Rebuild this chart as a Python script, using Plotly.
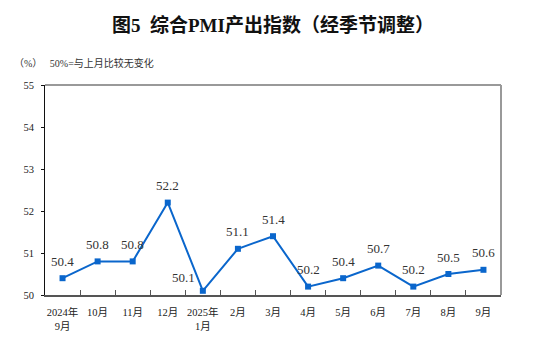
import plotly.graph_objects as go

categories = ["2024年<br>9月", "10月", "11月", "12月", "2025年<br>1月", "2月", "3月",
              "4月", "5月", "6月", "7月", "8月", "9月"]
values = [50.4, 50.8, 50.8, 52.2, 50.1, 51.1, 51.4, 50.2, 50.4, 50.7, 50.2, 50.5, 50.6]
y_ticks = [50, 51, 52, 53, 54, 55]

FONT = "'Liberation Serif', 'Times New Roman', 'Noto Sans CJK SC', serif"
BLUE = "#0a66cc"

fig = go.Figure()
fig.add_trace(go.Scatter(
    x=categories, y=values, mode="lines+markers",
    line=dict(color=BLUE, width=2),
    marker=dict(symbol="square", size=6, color=BLUE),
    hoverinfo="skip", showlegend=False,
))

for i, (c, v) in enumerate(zip(categories, values)):
    xs, ys = 0, 17
    if i == 4:
        xs, ys = -19, 13
    fig.add_annotation(x=c, y=v, text=f"{v:.1f}", showarrow=False,
                       xshift=xs, yshift=ys,
                       font=dict(family=FONT, size=13, color="#333333"))

fig.add_annotation(xref="paper", yref="paper", x=0.5, y=1, yshift=60,
                   text="<b>图5  综合PMI产出指数（经季节调整）</b>", showarrow=False,
                   xanchor="center", yanchor="middle",
                   font=dict(family=FONT, size=19, color="#111111"))
fig.add_annotation(xref="paper", yref="paper", x=0, y=1, xshift=-33, yshift=22,
                   text="（%）   50%=与上月比较无变化", showarrow=False,
                   xanchor="left", yanchor="middle",
                   font=dict(family=FONT, size=10, color="#333333"))

# top and right frame lines
fig.add_shape(type="line", xref="paper", yref="paper", x0=0, x1=1, y0=1, y1=1,
              line=dict(color="#999999", width=2))
fig.add_shape(type="line", xref="paper", yref="paper", x0=1, x1=1, y0=0, y1=1,
              line=dict(color="#999999", width=2))

fig.update_layout(
    width=536, height=346,
    margin=dict(l=45, r=35, t=85, b=51),
    paper_bgcolor="white", plot_bgcolor="white",
    font=dict(family=FONT, size=10, color="#333333"),
)
fig.update_xaxes(
    type="category", range=[-0.5, 12.5], tickangle=0,
    showline=True, linecolor="#555555", linewidth=1.5,
    ticks="inside", ticklen=5, tickcolor="#555555", tickson="boundaries",
    ticklabelstandoff=7,
    showgrid=False, zeroline=False,
    tickfont=dict(family=FONT, size=10.5, color="#222222"),
)
fig.update_yaxes(
    range=[50, 55], tickvals=y_ticks, ticktext=[str(t) for t in y_ticks],
    showline=True, linecolor="#111111", linewidth=1,
    ticks="outside", ticklen=3, tickcolor="#111111",
    ticklabelstandoff=5,
    showgrid=False, zeroline=False,
    tickfont=dict(family=FONT, size=10.5, color="#222222"),
)

fig.write_html("out.html")
